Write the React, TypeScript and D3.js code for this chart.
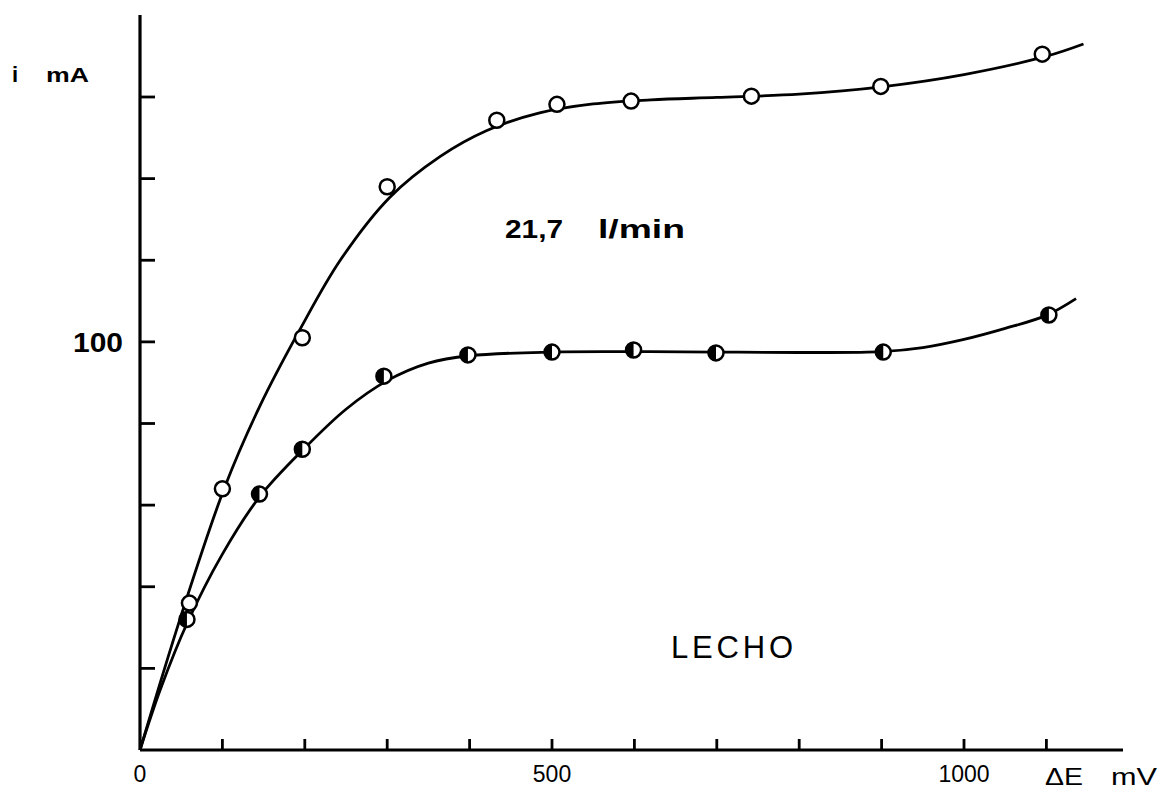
import React from "react";
import * as d3 from "d3";

// Measured points
const openX = [60, 100, 197, 300, 433, 506, 596, 742, 899, 1095];
const openY = [36, 64, 101, 138, 154.3, 158.2, 159, 160.2, 162.6, 170.5];
const halfX = [57, 145, 197, 296, 398, 500, 599, 699, 902, 1103];
const halfY = [32, 62.7, 73.7, 91.6, 96.8, 97.5, 98, 97.3, 97.5, 106.6];

// Hand-drawn fitted curves (nodes)
const upperCurveX = [0, 50, 103, 146, 194, 243, 303, 364, 421, 485, 550, 620, 700, 800, 900, 1000, 1100, 1145];
const upperCurveY = [0, 33, 64.5, 84.5, 103, 120, 135.4, 145.4, 151.8, 156.1, 158.3, 159.3, 159.9, 160.7, 162.5, 165.5, 170, 173];
const lowerCurveX = [0, 25, 57, 100, 145, 200, 250, 300, 350, 400, 500, 600, 700, 800, 900, 950, 1000, 1050, 1100, 1136];
const lowerCurveY = [0, 15, 31, 48, 62, 74, 83.5, 90.5, 94.8, 96.6, 97.5, 97.6, 97.5, 97.4, 97.6, 98.6, 100.6, 103.3, 106.5, 110.6];

const xTicks = [100, 200, 300, 400, 500, 600, 700, 800, 900, 1000, 1100];
const yTicks = [20, 40, 60, 80, 100, 120, 140, 160];
const xTickLabels = [
  { v: 0, t: "0" },
  { v: 500, t: "500" },
  { v: 1000, t: "1000" },
];

export default function App() {
  const W = 1163, H = 800;
  const x = d3.scaleLinear().domain([0, 1000]).range([140, 964]);
  const y = d3.scaleLinear().domain([0, 160]).range([750, 97]);
  const line = d3
    .line<[number, number]>()
    .x((d) => x(d[0]))
    .y((d) => y(d[1]))
    .curve(d3.curveCatmullRom.alpha(0.5));
  const upper = line(upperCurveX.map((v, i) => [v, upperCurveY[i]]) as [number, number][]) || "";
  const lower = line(lowerCurveX.map((v, i) => [v, lowerCurveY[i]]) as [number, number][]) || "";
  const r = 7.5;
  const font = "'Liberation Sans', Arial, sans-serif";

  return (
    <svg width={W} height={H} style={{ position: "absolute", left: 0, top: 0, background: "#fff" }}>
      <rect x={0} y={0} width={W} height={H} fill="#fff" />
      {/* axes */}
      <line x1={x(0)} y1={15} x2={x(0)} y2={y(0)} stroke="#000" strokeWidth={3.2} />
      <line x1={x(0)} y1={y(0)} x2={1123} y2={y(0)} stroke="#000" strokeWidth={3.2} />
      {xTicks.map((t) => (
        <line key={"xt" + t} x1={x(t)} x2={x(t)} y1={y(0)} y2={y(0) - 11} stroke="#000" strokeWidth={2.8} />
      ))}
      {yTicks.map((t) => (
        <line key={"yt" + t} x1={x(0)} x2={x(0) + 15} y1={y(t)} y2={y(t)} stroke="#000" strokeWidth={2.8} />
      ))}
      {/* curves */}
      <path d={upper} fill="none" stroke="#000" strokeWidth={2.8} />
      <path d={lower} fill="none" stroke="#000" strokeWidth={2.8} />
      {/* open markers */}
      {openX.map((v, i) => (
        <circle key={"o" + i} cx={x(v)} cy={y(openY[i])} r={r} fill="#fff" stroke="#000" strokeWidth={2.5} />
      ))}
      {/* half-filled markers */}
      {halfX.map((v, i) => {
        const cx = x(v), cy = y(halfY[i]);
        return (
          <g key={"h" + i}>
            <circle cx={cx} cy={cy} r={r} fill="#fff" stroke="#000" strokeWidth={2.5} />
            <path d={`M${cx},${cy - r} A${r},${r} 0 0 0 ${cx},${cy + r} Z`} fill="#000" />
          </g>
        );
      })}
      {/* tick labels */}
      {xTickLabels.map((d) => (
        <text key={"xl" + d.v} x={x(d.v)} y={782} textAnchor="middle" fontFamily={font} fontSize={23} fill="#000">
          {d.t}
        </text>
      ))}
      <text x={73} y={352} fontFamily={font} fontSize={27} fontWeight="bold" fill="#000" textLength={50} lengthAdjust="spacingAndGlyphs">
        100
      </text>
      {/* axis labels */}
      <text x={12} y={82} fontFamily={font} fontSize={22} fontWeight="bold" fill="#000">
        i
      </text>
      <text x={46} y={82} fontFamily={font} fontSize={21} fontWeight="bold" fill="#000" textLength={43} lengthAdjust="spacingAndGlyphs">
        mA
      </text>
      <text x={1045} y={785} fontFamily={font} fontSize={24} fill="#000" textLength={38} lengthAdjust="spacingAndGlyphs">
        ΔE
      </text>
      <text x={1111} y={785} fontFamily={font} fontSize={24} fill="#000" textLength={46} lengthAdjust="spacingAndGlyphs">
        mV
      </text>
      {/* annotations */}
      <text x={505} y={238} fontFamily={font} fontSize={26} fontWeight="bold" fill="#000" textLength={58} lengthAdjust="spacingAndGlyphs">
        21,7
      </text>
      <text x={598} y={238} fontFamily={font} fontSize={26} fontWeight="bold" fill="#000" textLength={87} lengthAdjust="spacingAndGlyphs">
        l/min
      </text>
      <text x={671} y={658} fontFamily={font} fontSize={31} fill="#000" textLength={122} lengthAdjust="spacing">
        LECHO
      </text>
    </svg>
  );
}
